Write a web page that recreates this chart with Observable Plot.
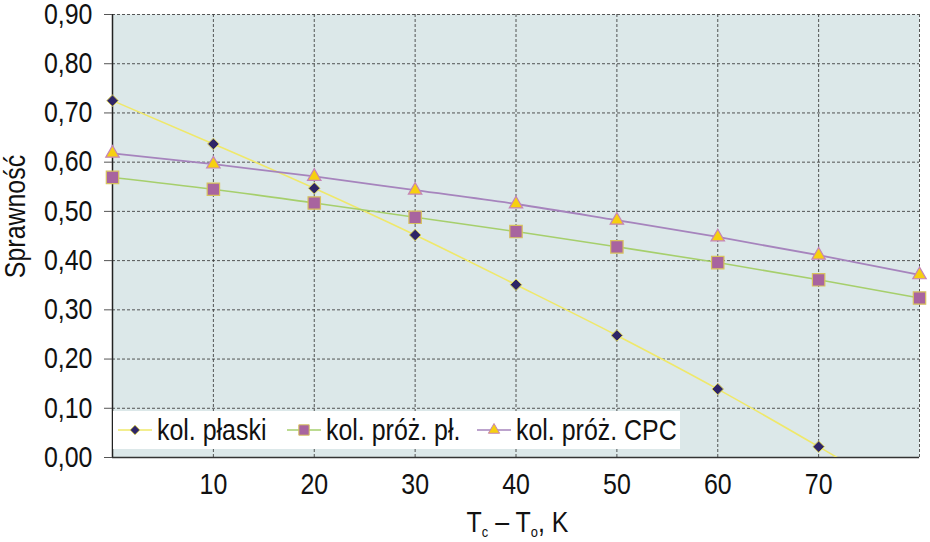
<!DOCTYPE html>
<html>
<head>
<meta charset="utf-8">
<script src="https://cdn.jsdelivr.net/npm/d3@7"></script>
<script src="https://cdn.jsdelivr.net/npm/@observablehq/plot@0.6"></script>
<style>
  html, body { margin: 0; padding: 0; background: #ffffff; }
  #chart svg { display: block; }
</style>
</head>
<body>
<div id="chart"></div>
<script>
// Temperature difference Tc – To [K]
const deltaT = [0, 10, 20, 30, 40, 50, 60, 70, 80];
// Efficiency of the flat-plate collector (last value lies below the axis)
const plaski = [0.725, 0.637, 0.547, 0.452, 0.351, 0.248, 0.139, 0.022, -0.10];
// Efficiency of the evacuated flat collector
const prozPl = [0.569, 0.545, 0.517, 0.488, 0.459, 0.428, 0.396, 0.361, 0.324];
// Efficiency of the evacuated CPC collector
const prozCPC = [0.618, 0.596, 0.571, 0.543, 0.515, 0.482, 0.448, 0.411, 0.371];

const seriesNames = ["kol. płaski", "kol. próż. pł.", "kol. próż. CPC"];
const xTicks = [0, 10, 20, 30, 40, 50, 60, 70, 80];
const xTickLabels = ["", "10", "20", "30", "40", "50", "60", "70", ""];
const yTicks = [0, 0.1, 0.2, 0.3, 0.4, 0.5, 0.6, 0.7, 0.8, 0.9];

const FONT = "'Liberation Sans', Arial, sans-serif";
const FS = 29;
const NARROW = 0.86; // horizontal squeeze giving a condensed face

const rows = (values, name) => deltaT.map((x, i) => ({x, y: values[i], series: name}));
const flat = rows(plaski, seriesNames[0]);
const vacFlat = rows(prozPl, seriesNames[1]);
const vacCPC = rows(prozCPC, seriesNames[2]);

const style = {
  flat:    {line: "#efe86a", fill: "#2e2466", stroke: "#d8cf5a", symbol: "diamond2", r: 5.2},
  vacFlat: {line: "#a6cf6c", fill: "#a8649f", stroke: "#d8c25e", symbol: "square",   r: 7.0},
  vacCPC:  {line: "#a684bd", fill: "#f6d010", stroke: "#c584b8", symbol: "triangle", r: 5.0}
};

const comma = d => d3.format(".2f")(d).replace(".", ",");

const plot = Plot.plot({
  width: 930,
  height: 542,
  marginLeft: 112,
  marginRight: 11,
  marginTop: 14,
  marginBottom: 85,
  style: {fontFamily: FONT, fontSize: `${FS}px`, color: "#111", background: "#ffffff", overflow: "visible"},
  x: {domain: [0, 80]},
  y: {domain: [0, 0.9]},
  marks: [
    Plot.frame({fill: "#dce8e9", stroke: null}),
    // dashed grid, the outer top/right edges included
    Plot.ruleX(xTicks.filter(d => d > 0), {stroke: "#3a3a3a", strokeWidth: 1, strokeDasharray: "3,2", strokeOpacity: 0.85}),
    Plot.ruleY(yTicks.filter(d => d > 0), {stroke: "#3a3a3a", strokeWidth: 1, strokeDasharray: "3,2", strokeOpacity: 0.85}),
    // solid axis lines
    Plot.ruleX([0], {stroke: "#222", strokeWidth: 1.5}),
    Plot.ruleY([0], {stroke: "#333", strokeWidth: 1.5}),
    Plot.axisY({ticks: yTicks, tickFormat: comma, tickSize: 8, tickPadding: 12, label: null, fontSize: FS, stroke: "#555"}),
    Plot.axisX({ticks: xTicks, tickFormat: d => xTickLabels[xTicks.indexOf(d)], tickSize: 0, tickPadding: 16, label: null, fontSize: FS}),
    // series lines
    Plot.line(flat, {x: "x", y: "y", stroke: style.flat.line, strokeWidth: 1.6, curve: "monotone-x", clip: true}),
    Plot.line(vacFlat, {x: "x", y: "y", stroke: style.vacFlat.line, strokeWidth: 1.6, curve: "monotone-x"}),
    Plot.line(vacCPC, {x: "x", y: "y", stroke: style.vacCPC.line, strokeWidth: 1.8, curve: "monotone-x"}),
    // markers
    Plot.dot(flat.filter(d => d.y >= 0), {x: "x", y: "y", symbol: style.flat.symbol, r: style.flat.r, fill: style.flat.fill, stroke: style.flat.stroke, strokeWidth: 1}),
    Plot.dot(vacFlat, {x: "x", y: "y", symbol: style.vacFlat.symbol, r: style.vacFlat.r, fill: style.vacFlat.fill, stroke: style.vacFlat.stroke, strokeWidth: 1.2}),
    Plot.dot(vacCPC, {x: "x", y: "y", symbol: style.vacCPC.symbol, r: style.vacCPC.r, fill: style.vacCPC.fill, stroke: style.vacCPC.stroke, strokeWidth: 1.2})
  ]
});

document.getElementById("chart").appendChild(plot);

const svg = d3.select(plot);

// condense the tick labels around their own anchor points
svg.selectAll("text").each(function () {
  const t = this.getAttribute("transform");
  if (t) this.setAttribute("transform", `${t} scale(${NARROW},1)`);
});

const xs = plot.scale("x");
const ys = plot.scale("y");
const x0 = xs.apply(0), x80 = xs.apply(80);
const yBottom = ys.apply(0), yTop = ys.apply(0.9);

// legend box in the lower-left corner of the plot area
const legend = svg.append("g")
  .attr("font-family", FONT).attr("font-size", FS).attr("fill", "#111")
  .attr("text-anchor", "start");
legend.append("rect")
  .attr("x", x0 + 1).attr("y", yBottom - 46)
  .attr("width", 567).attr("height", 38)
  .attr("fill", "#ffffff");

const items = [
  {name: seriesNames[0], s: style.flat,    x: x0 + 6},
  {name: seriesNames[1], s: style.vacFlat, x: x0 + 175},
  {name: seriesNames[2], s: style.vacCPC,  x: x0 + 365}
];
const symbolTypes = {diamond2: d3.symbolDiamond2, square: d3.symbolSquare, triangle: d3.symbolTriangle};
const ly = yBottom - 27;
for (const it of items) {
  legend.append("line")
    .attr("x1", it.x).attr("x2", it.x + 34)
    .attr("y1", ly).attr("y2", ly)
    .attr("stroke", it.s.line).attr("stroke-width", 1.6);
  legend.append("path")
    .attr("transform", `translate(${it.x + 17},${ly})`)
    .attr("d", d3.symbol(symbolTypes[it.s.symbol], it.s.r * it.s.r * Math.PI * 0.7)())
    .attr("fill", it.s.fill).attr("stroke", it.s.stroke).attr("stroke-width", 1);
  legend.append("text")
    .attr("transform", `translate(${it.x + 39},${ly + 10}) scale(${NARROW},1)`)
    .text(it.name);
}

// axis titles
const xt = svg.append("text")
  .attr("transform", `translate(${(x0 + x80) / 2 + 2},532) scale(${NARROW},1)`)
  .attr("text-anchor", "middle")
  .attr("font-family", FONT).attr("font-size", FS).attr("fill", "#111");
xt.append("tspan").text("T");
xt.append("tspan").attr("font-size", 15).attr("dy", 5).text("c");
xt.append("tspan").attr("dy", -5).text(" – T");
xt.append("tspan").attr("font-size", 15).attr("dy", 5).text("o");
xt.append("tspan").attr("dy", -5).text(", K");

svg.append("text")
  .attr("transform", `translate(25,${(yTop + yBottom) / 2 - 19}) rotate(-90) scale(${NARROW},1)`)
  .attr("text-anchor", "middle")
  .attr("font-family", FONT).attr("font-size", FS).attr("fill", "#111")
  .text("Sprawność");
</script>
</body>
</html>
